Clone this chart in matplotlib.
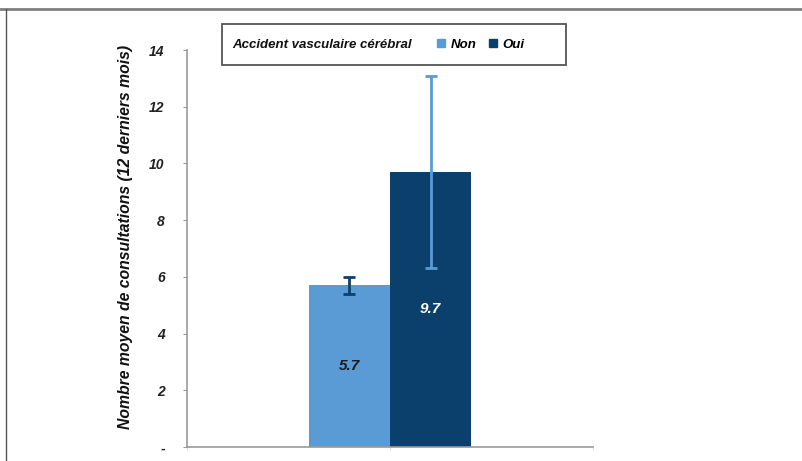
import matplotlib.pyplot as plt
from matplotlib.patches import FancyBboxPatch
from matplotlib.lines import Line2D

groups = ["Non", "Oui"]
means = [5.7, 9.7]
errors = [0.3, 3.4]
bar_colors = ["#5b9bd5", "#0b3f6c"]
err_colors = ["#0b3f6c", "#5b9bd5"]
label_colors = ["#1a1a1a", "#ffffff"]
yticks = [0, 2, 4, 6, 8, 10, 12, 14]
ytick_labels = ["-", "2", "4", "6", "8", "10", "12", "14"]
legend_title = "Accident vasculaire cérébral"
ylabel = "Nombre moyen de consultations (12 derniers mois)"

plt.rcParams["font.family"] = ["Liberation Sans", "DejaVu Sans"]

fig = plt.figure(figsize=(8.03, 4.61), dpi=100)
ax = fig.add_axes([187 / 803, 1 - 447 / 461, (593 - 187) / 803, (447 - 50) / 461])

offsets = [-0.1, 0.1]
for x, m, e, c, ec, lc, g in zip(offsets, means, errors, bar_colors, err_colors, label_colors, groups):
    ax.bar(x, m, width=0.2, color=c, label=g, zorder=2)
    ax.errorbar(x, m, yerr=e, color=ec, capsize=4, capthick=2, elinewidth=2, zorder=3)
    ax.text(x, m / 2, f"{m:.1f}", ha="center", va="center", color=lc,
            fontsize=11, fontweight="bold", fontstyle="italic", zorder=4)

ax.set_xlim(-0.5, 0.5)
ax.set_ylim(0, 14)
ax.set_yticks(yticks)
ax.set_yticklabels(ytick_labels, fontsize=10, fontweight="bold", fontstyle="italic", color="#222222")
ax.set_xticks([-0.5, 0, 0.5])
ax.set_xticklabels([])
ax.tick_params(axis="y", length=3, color="#999999", pad=13)
ax.tick_params(axis="x", length=2, color="#dddddd")
for side in ["top", "right"]:
    ax.spines[side].set_visible(False)
for side in ["left", "bottom"]:
    ax.spines[side].set_color("#999999")
    ax.spines[side].set_linewidth(1.2)
ax.set_ylabel(ylabel, fontsize=11.3, fontweight="bold", fontstyle="italic", color="#111111")
ax.yaxis.set_label_coords(-0.133, 0.53)

# legend box with title on the same line
box = FancyBboxPatch((222 / 803, 1 - 65 / 461), (566 - 222) / 803, 41 / 461,
                     boxstyle="square,pad=0", transform=fig.transFigure,
                     facecolor="white", edgecolor="#555555", linewidth=1.3, zorder=5)
fig.patches.append(box)
fig.text(232 / 803, 1 - 44.5 / 461, legend_title, fontsize=9.5, fontweight="bold",
         fontstyle="italic", va="center", ha="left", color="#111111", zorder=6)
handles = [Line2D([], [], marker="s", linestyle="none", markersize=6,
                  markerfacecolor=c, markeredgecolor=c) for c in bar_colors]
leg = fig.legend(handles, groups, loc="center left", bbox_to_anchor=(424 / 803, 1 - 44.5 / 461),
                 ncol=2, frameon=False, handlelength=0.8, handletextpad=0.3, columnspacing=0.9,
                 prop={"size": 9.5, "weight": "bold", "style": "italic"})

# outer frame of the figure panel
fig.add_artist(Line2D([0, 1], [1 - 9 / 461, 1 - 9 / 461], transform=fig.transFigure, color="#808080", linewidth=2))
fig.add_artist(Line2D([6 / 803, 6 / 803], [0, 1 - 9 / 461], transform=fig.transFigure, color="#555555", linewidth=1))

plt.savefig("out.png", dpi=100)
plt.close(fig)
